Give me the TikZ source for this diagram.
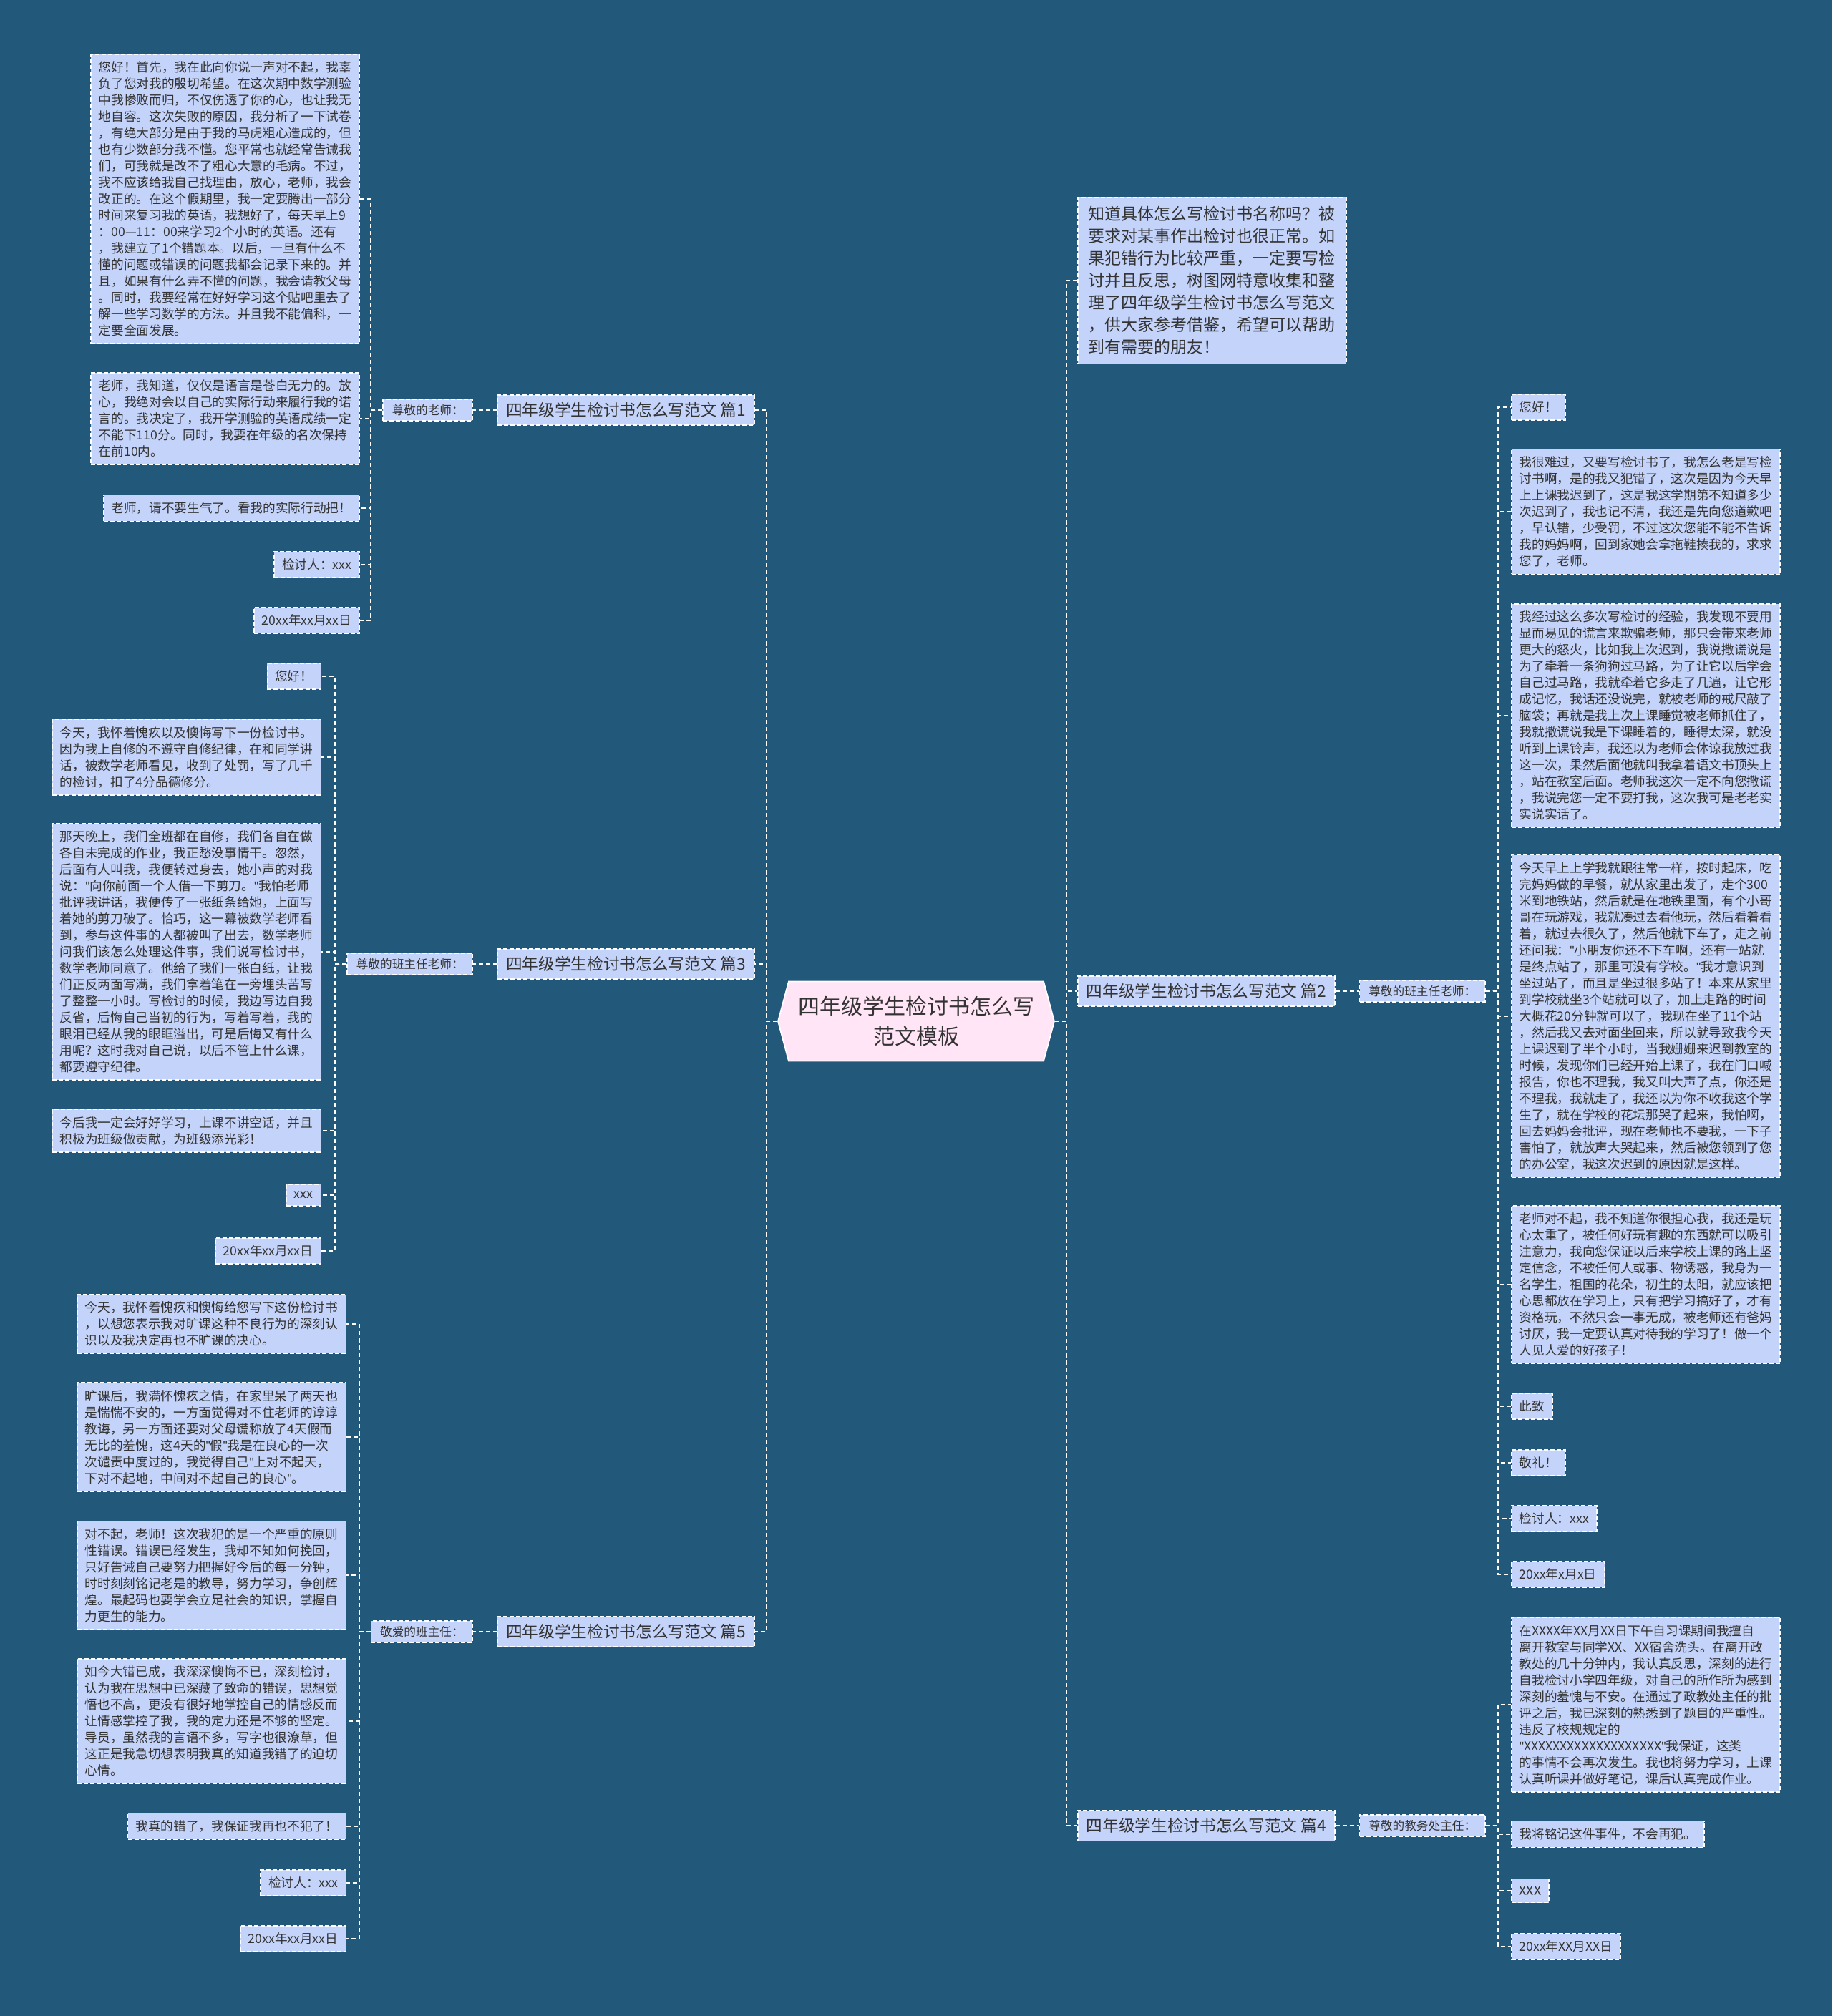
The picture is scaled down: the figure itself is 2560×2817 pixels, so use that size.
\documentclass[tikz,border=0pt]{standalone}
\usepackage{fontspec}
\setmainfont{Noto Sans CJK SC}
\newfontfamily\latinfont{Liberation Sans}
\newcommand\strq{{\latinfont"}}
\usepackage{xcolor}
\usetikzlibrary{positioning,shapes.symbols}
\definecolor{bgblue}{RGB}{34,88,122}
\definecolor{leafblue}{RGB}{196,211,250}
\definecolor{rootpink}{RGB}{255,229,246}
\definecolor{ink}{RGB}{51,51,51}

\begin{document}
\begin{tikzpicture}[
	x=0.3pt, y=-0.3pt,
	root/.style={signal, signal to=west and east, signal pointer angle=150, draw=white, line width=0.5pt, fill=rootpink, text=ink, align=center, font=\fontsize{9}{12.4}\selectfont, minimum width=115.8pt, minimum height=33.3pt, inner sep=2pt},
	leaf/.style={rectangle, draw=white, dash pattern=on 1.8pt off 0.9pt, line width=0.45pt, fill=leafblue, text=ink, align=left, font=\fontsize{5.3}{6.9}\selectfont, inner xsep=3.3pt, inner ysep=3pt},
	branch/.style={leaf, font=\fontsize{6.8}{8}\selectfont, inner xsep=3.6pt, inner ysep=3.2pt},
	greet/.style={leaf, font=\fontsize{5}{6}\selectfont, inner xsep=3.8pt, inner ysep=2.2pt},
	intro/.style={leaf, font=\fontsize{6.9}{9.3}\selectfont, inner xsep=4.5pt, inner ysep=3.9pt},
	link/.style={draw=white, line width=0.55pt, dash pattern=on 1.8pt off 1.2pt}
	]
	\fill [bgblue] (0,0) rectangle (2560,2817);
	\useasboundingbox (0,0) rectangle (2560,2817);

	% centre and first level
	\node (root) [root] at (1280,1427) {四年级学生检讨书怎么写\\范文模板};
	\node (b1) [branch, anchor=east] at (1055,573) {四年级学生检讨书怎么写范文 篇1};
	\node (b3) [branch, anchor=east] at (1055,1347) {四年级学生检讨书怎么写范文 篇3};
	\node (b5) [branch, anchor=east] at (1055,2280) {四年级学生检讨书怎么写范文 篇5};
	\node (intro) [intro, anchor=west] at (1505,392) {知道具体怎么写检讨书名称吗？被\\要求对某事作出检讨也很正常。如\\果犯错行为比较严重，一定要写检\\讨并且反思，树图网特意收集和整\\理了四年级学生检讨书怎么写范文\\，供大家参考借鉴，希望可以帮助\\到有需要的朋友！};
	\node (b2) [branch, anchor=west] at (1505,1385) {四年级学生检讨书怎么写范文 篇2};
	\node (b4) [branch, anchor=west] at (1505,2551) {四年级学生检讨书怎么写范文 篇4};

	% greetings
	\node (s1) [greet, left=10pt of b1] {尊敬的老师：};
	\node (s3) [greet, left=10pt of b3] {尊敬的班主任老师：};
	\node (s5) [greet, left=10pt of b5] {敬爱的班主任：};
	\node (s2) [greet, right=10pt of b2] {尊敬的班主任老师：};
	\node (s4) [greet, right=10pt of b4] {尊敬的教务处主任：};

	% 篇1
	\node (l1a) [leaf, anchor=east] at (503,278) {您好！首先，我在此向你说一声对不起，我辜\\负了您对我的殷切希望。在这次期中数学测验\\中我惨败而归，不仅伤透了你的心，也让我无\\地自容。这次失败的原因，我分析了一下试卷\\，有绝大部分是由于我的马虎粗心造成的，但\\也有少数部分我不懂。您平常也就经常告诫我\\们，可我就是改不了粗心大意的毛病。不过，\\我不应该给我自己找理由，放心，老师，我会\\改正的。在这个假期里，我一定要腾出一部分\\时间来复习我的英语，我想好了，每天早上9\\：00—11：00来学习2个小时的英语。还有\\，我建立了1个错题本。以后，一旦有什么不\\懂的问题或错误的问题我都会记录下来的。并\\且，如果有什么弄不懂的问题，我会请教父母\\。同时，我要经常在好好学习这个贴吧里去了\\解一些学习数学的方法。并且我不能偏科，一\\定要全面发展。};
	\node (l1b) [leaf, anchor=east] at (503,585) {老师，我知道，仅仅是语言是苍白无力的。放\\心，我绝对会以自己的实际行动来履行我的诺\\言的。我决定了，我开学测验的英语成绩一定\\不能下110分。同时，我要在年级的名次保持\\在前10内。};
	\node (l1c) [leaf, anchor=east] at (503,710) {老师，请不要生气了。看我的实际行动把！};
	\node (l1d) [leaf, anchor=east] at (503,789) {检讨人：xxx};
	\node (l1e) [leaf, anchor=east] at (503,867) {20xx年xx月xx日};

	% 篇3
	\node (l3a) [leaf, anchor=east] at (449,945) {您好！};
	\node (l3b) [leaf, anchor=east] at (449,1058) {今天，我怀着愧疚以及懊悔写下一份检讨书。\\因为我上自修的不遵守自修纪律，在和同学讲\\话，被数学老师看见，收到了处罚，写了几千\\的检讨，扣了4分品德修分。};
	\node (l3c) [leaf, anchor=east] at (449,1330) {那天晚上，我们全班都在自修，我们各自在做\\各自未完成的作业，我正愁没事情干。忽然，\\后面有人叫我，我便转过身去，她小声的对我\\说：\strq 向你前面一个人借一下剪刀。\strq 我怕老师\\批评我讲话，我便传了一张纸条给她，上面写\\着她的剪刀破了。恰巧，这一幕被数学老师看\\到，参与这件事的人都被叫了出去，数学老师\\问我们该怎么处理这件事，我们说写检讨书，\\数学老师同意了。他给了我们一张白纸，让我\\们正反两面写满，我们拿着笔在一旁埋头苦写\\了整整一小时。写检讨的时候，我边写边自我\\反省，后悔自己当初的行为，写着写着，我的\\眼泪已经从我的眼眶溢出，可是后悔又有什么\\用呢？这时我对自己说，以后不管上什么课，\\都要遵守纪律。};
	\node (l3d) [leaf, anchor=east] at (449,1580) {今后我一定会好好学习，上课不讲空话，并且\\积极为班级做贡献，为班级添光彩！};
	\node (l3e) [leaf, anchor=east] at (449,1670) {xxx};
	\node (l3f) [leaf, anchor=east] at (449,1748) {20xx年xx月xx日};

	% 篇5
	\node (l5a) [leaf, anchor=east] at (484,1850) {今天，我怀着愧疚和懊悔给您写下这份检讨书\\，以想您表示我对旷课这种不良行为的深刻认\\识以及我决定再也不旷课的决心。};
	\node (l5b) [leaf, anchor=east] at (484,2008) {旷课后，我满怀愧疚之情，在家里呆了两天也\\是惴惴不安的，一方面觉得对不住老师的谆谆\\教诲，另一方面还要对父母谎称放了4天假而\\无比的羞愧，这4天的\strq 假\strq 我是在良心的一次\\次谴责中度过的，我觉得自己\strq 上对不起天，\\下对不起地，中间对不起自己的良心\strq 。};
	\node (l5c) [leaf, anchor=east] at (484,2201) {对不起，老师！这次我犯的是一个严重的原则\\性错误。错误已经发生，我却不知如何挽回，\\只好告诫自己要努力把握好今后的每一分钟，\\时时刻刻铭记老是的教导，努力学习，争创辉\\煌。最起码也要学会立足社会的知识，掌握自\\力更生的能力。};
	\node (l5d) [leaf, anchor=east] at (484,2405) {如今大错已成，我深深懊悔不已，深刻检讨，\\认为我在思想中已深藏了致命的错误，思想觉\\悟也不高，更没有很好地掌控自己的情感反而\\让情感掌控了我，我的定力还是不够的坚定。\\导员，虽然我的言语不多，写字也很潦草，但\\这正是我急切想表明我真的知道我错了的迫切\\心情。};
	\node (l5e) [leaf, anchor=east] at (484,2552) {我真的错了，我保证我再也不犯了！};
	\node (l5f) [leaf, anchor=east] at (484,2631) {检讨人：xxx};
	\node (l5g) [leaf, anchor=east] at (484,2709) {20xx年xx月xx日};

	% 篇2
	\node (r2a) [leaf, anchor=west] at (2111,569) {您好！};
	\node (r2b) [leaf, anchor=west] at (2111,715) {我很难过，又要写检讨书了，我怎么老是写检\\讨书啊，是的我又犯错了，这次是因为今天早\\上上课我迟到了，这是我这学期第不知道多少\\次迟到了，我也记不清，我还是先向您道歉吧\\，早认错，少受罚，不过这次您能不能不告诉\\我的妈妈啊，回到家她会拿拖鞋揍我的，求求\\您了，老师。};
	\node (r2c) [leaf, anchor=west] at (2111,1000) {我经过这么多次写检讨的经验，我发现不要用\\显而易见的谎言来欺骗老师，那只会带来老师\\更大的怒火，比如我上次迟到，我说撒谎说是\\为了牵着一条狗狗过马路，为了让它以后学会\\自己过马路，我就牵着它多走了几遍，让它形\\成记忆，我话还没说完，就被老师的戒尺敲了\\脑袋；再就是我上次上课睡觉被老师抓住了，\\我就撒谎说我是下课睡着的，睡得太深，就没\\听到上课铃声，我还以为老师会体谅我放过我\\这一次，果然后面他就叫我拿着语文书顶头上\\，站在教室后面。老师我这次一定不向您撒谎\\，我说完您一定不要打我，这次我可是老老实\\实说实话了。};
	\node (r2d) [leaf, anchor=west] at (2111,1420) {今天早上上学我就跟往常一样，按时起床，吃\\完妈妈做的早餐，就从家里出发了，走个300\\米到地铁站，然后就是在地铁里面，有个小哥\\哥在玩游戏，我就凑过去看他玩，然后看着看\\着，就过去很久了，然后他就下车了，走之前\\还问我：\strq 小朋友你还不下车啊，还有一站就\\是终点站了，那里可没有学校。\strq 我才意识到\\坐过站了，而且是坐过很多站了！本来从家里\\到学校就坐3个站就可以了，加上走路的时间\\大概花20分钟就可以了，我现在坐了11个站\\，然后我又去对面坐回来，所以就导致我今天\\上课迟到了半个小时，当我姗姗来迟到教室的\\时候，发现你们已经开始上课了，我在门口喊\\报告，你也不理我，我又叫大声了点，你还是\\不理我，我就走了，我还以为你不收我这个学\\生了，就在学校的花坛那哭了起来，我怕啊，\\回去妈妈会批评，现在老师也不要我，一下子\\害怕了，就放声大哭起来，然后被您领到了您\\的办公室，我这次迟到的原因就是这样。};
	\node (r2e) [leaf, anchor=west] at (2111,1795) {老师对不起，我不知道你很担心我，我还是玩\\心太重了，被任何好玩有趣的东西就可以吸引\\注意力，我向您保证以后来学校上课的路上坚\\定信念，不被任何人或事、物诱惑，我身为一\\名学生，祖国的花朵，初生的太阳，就应该把\\心思都放在学习上，只有把学习搞好了，才有\\资格玩，不然只会一事无成，被老师还有爸妈\\讨厌，我一定要认真对待我的学习了！做一个\\人见人爱的好孩子！};
	\node (r2f) [leaf, anchor=west] at (2111,1965) {此致};
	\node (r2g) [leaf, anchor=west] at (2111,2044) {敬礼！};
	\node (r2h) [leaf, anchor=west] at (2111,2122) {检讨人：xxx};
	\node (r2i) [leaf, anchor=west] at (2111,2200) {20xx年x月x日};

	% 篇4
	\node (r4a) [leaf, anchor=west] at (2111,2382) {在XXXX年XX月XX日下午自习课期间我擅自\\离开教室与同学XX、XX宿舍洗头。在离开政\\教处的几十分钟内，我认真反思，深刻的进行\\自我检讨小学四年级，对自己的所作所为感到\\深刻的羞愧与不安。在通过了政教处主任的批\\评之后，我已深刻的熟悉到了题目的严重性。\\违反了校规规定的\\\strq XXXXXXXXXXXXXXXXXXX\strq 我保证，这类\\的事情不会再次发生。我也将努力学习，上课\\认真听课并做好笔记，课后认真完成作业。};
	\node (r4b) [leaf, anchor=west] at (2111,2563) {我将铭记这件事件，不会再犯。};
	\node (r4c) [leaf, anchor=west] at (2111,2642) {XXX};
	\node (r4d) [leaf, anchor=west] at (2111,2720) {20xx年XX月XX日};

	% connectors
	\draw [link] (root.west) -- ++(-15,0) |- (b1.east);
	\draw [link] (root.west) -- ++(-15,0) |- (b3.east);
	\draw [link] (root.west) -- ++(-15,0) |- (b5.east);
	\draw [link] (root.east) -- ++(16,0) |- (intro.west);
	\draw [link] (root.east) -- ++(16,0) |- (b2.west);
	\draw [link] (root.east) -- ++(16,0) |- (b4.west);
	\draw [link] (b1) -- (s1);
	\draw [link] (b3) -- (s3);
	\draw [link] (b5) -- (s5);
	\draw [link] (b2) -- (s2);
	\draw [link] (b4) -- (s4);
	\draw [link] (s1.west) -- ++(-16,0) |- (l1a.east);
	\draw [link] (s1.west) -- ++(-16,0) |- (l1b.east);
	\draw [link] (s1.west) -- ++(-16,0) |- (l1c.east);
	\draw [link] (s1.west) -- ++(-16,0) |- (l1d.east);
	\draw [link] (s1.west) -- ++(-16,0) |- (l1e.east);
	\draw [link] (s3.west) -- ++(-16,0) |- (l3a.east);
	\draw [link] (s3.west) -- ++(-16,0) |- (l3b.east);
	\draw [link] (s3.west) -- ++(-16,0) |- (l3c.east);
	\draw [link] (s3.west) -- ++(-16,0) |- (l3d.east);
	\draw [link] (s3.west) -- ++(-16,0) |- (l3e.east);
	\draw [link] (s3.west) -- ++(-16,0) |- (l3f.east);
	\draw [link] (s5.west) -- ++(-16,0) |- (l5a.east);
	\draw [link] (s5.west) -- ++(-16,0) |- (l5b.east);
	\draw [link] (s5.west) -- ++(-16,0) |- (l5c.east);
	\draw [link] (s5.west) -- ++(-16,0) |- (l5d.east);
	\draw [link] (s5.west) -- ++(-16,0) |- (l5e.east);
	\draw [link] (s5.west) -- ++(-16,0) |- (l5f.east);
	\draw [link] (s5.west) -- ++(-16,0) |- (l5g.east);
	\draw [link] (s2.east) -- ++(17,0) |- (r2a.west);
	\draw [link] (s2.east) -- ++(17,0) |- (r2b.west);
	\draw [link] (s2.east) -- ++(17,0) |- (r2c.west);
	\draw [link] (s2.east) -- ++(17,0) |- (r2d.west);
	\draw [link] (s2.east) -- ++(17,0) |- (r2e.west);
	\draw [link] (s2.east) -- ++(17,0) |- (r2f.west);
	\draw [link] (s2.east) -- ++(17,0) |- (r2g.west);
	\draw [link] (s2.east) -- ++(17,0) |- (r2h.west);
	\draw [link] (s2.east) -- ++(17,0) |- (r2i.west);
	\draw [link] (s4.east) -- ++(17,0) |- (r4a.west);
	\draw [link] (s4.east) -- ++(17,0) |- (r4b.west);
	\draw [link] (s4.east) -- ++(17,0) |- (r4c.west);
	\draw [link] (s4.east) -- ++(17,0) |- (r4d.west);
\end{tikzpicture}
\end{document}
